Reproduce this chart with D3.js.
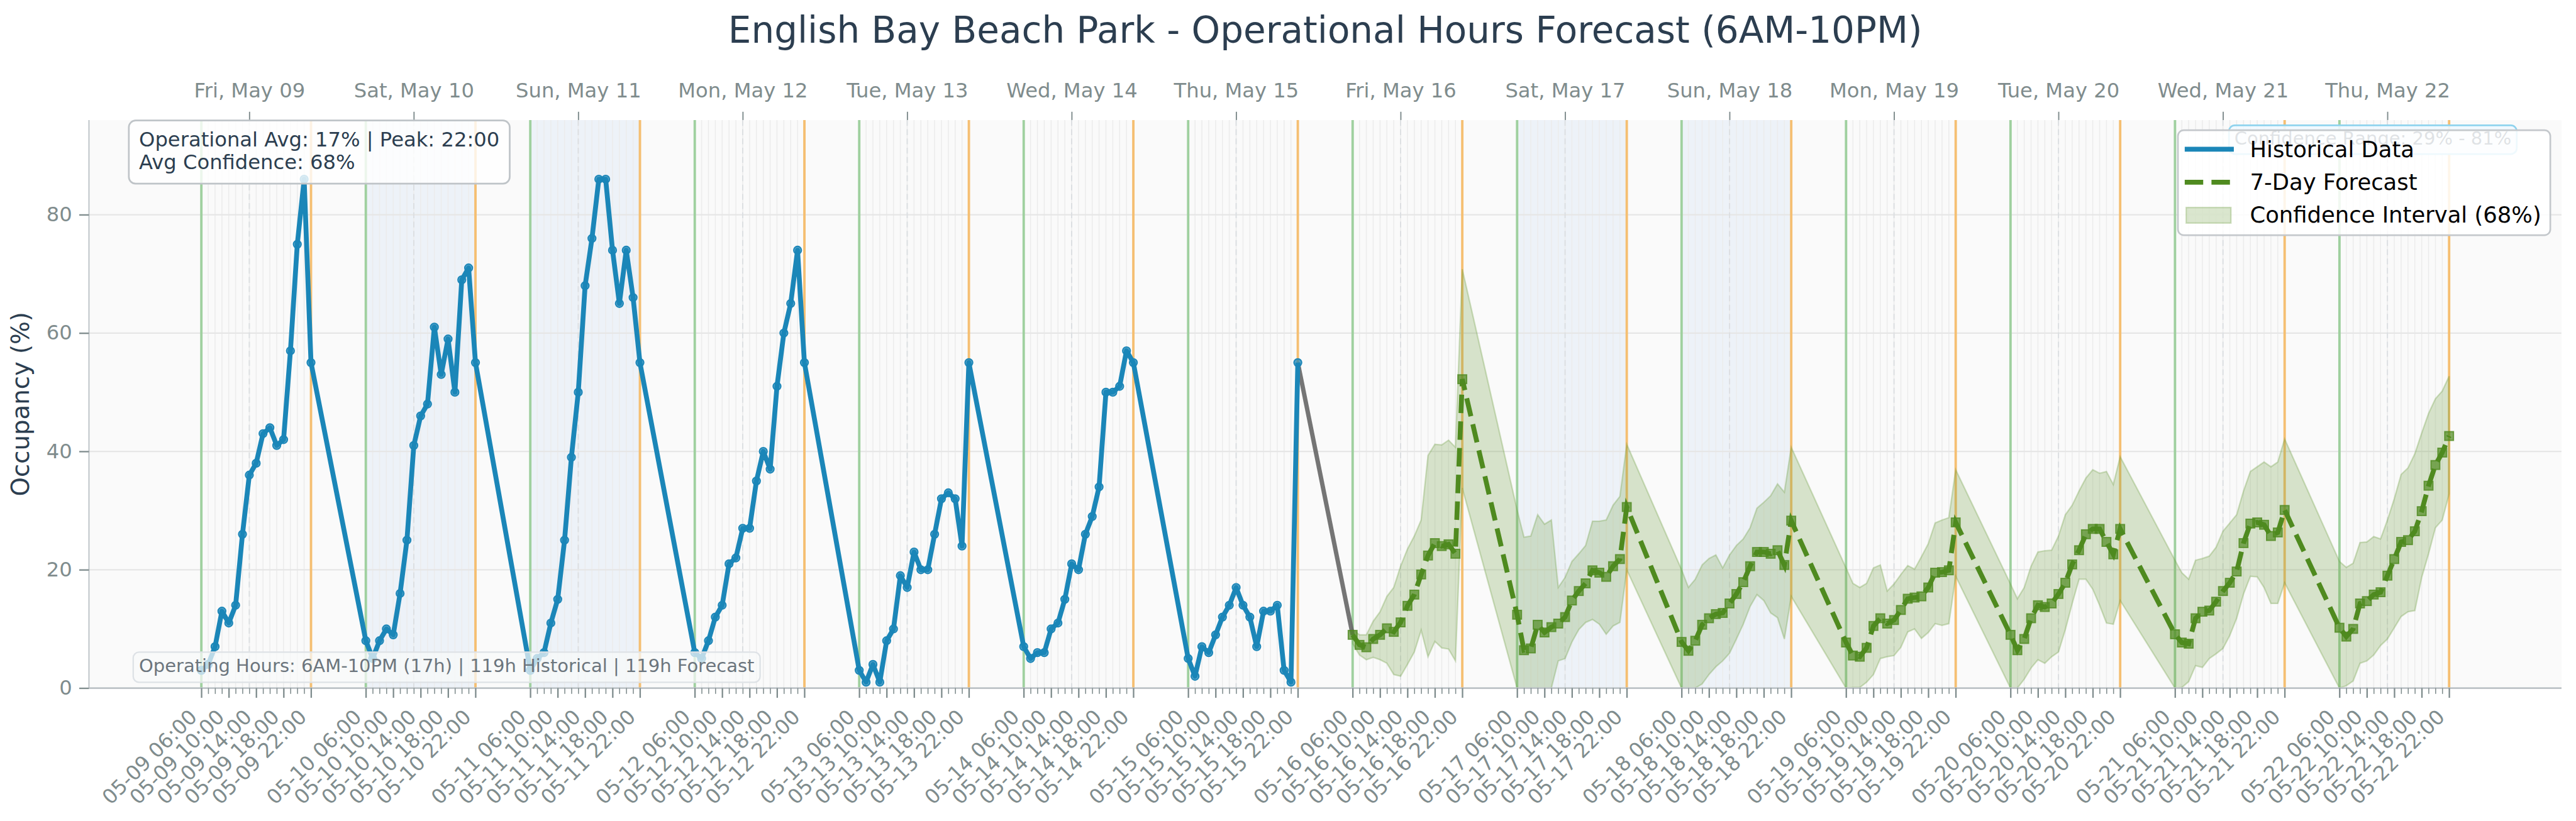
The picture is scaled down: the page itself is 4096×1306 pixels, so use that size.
<!DOCTYPE html>
<html>
<head>
<meta charset="utf-8">
<script src="https://cdn.jsdelivr.net/npm/d3@7"></script>
<style>
  html, body { margin: 0; padding: 0; background: #ffffff; }
  svg { display: block; font-family: "DejaVu Sans", "Liberation Sans", sans-serif; }
</style>
</head>
<body>
<svg id="chart" width="4096" height="1306"></svg>
<script>
// ---------------- DATA ----------------
const dayDates = ["2025-05-09","2025-05-10","2025-05-11","2025-05-12","2025-05-13","2025-05-14","2025-05-15",
                  "2025-05-16","2025-05-17","2025-05-18","2025-05-19","2025-05-20","2025-05-21","2025-05-22"];
const dayLabels = ["Fri, May 09","Sat, May 10","Sun, May 11","Mon, May 12","Tue, May 13","Wed, May 14","Thu, May 15",
                   "Fri, May 16","Sat, May 17","Sun, May 18","Mon, May 19","Tue, May 20","Wed, May 21","Thu, May 22"];
const weekendDates = ["2025-05-10","2025-05-11","2025-05-17","2025-05-18"];
const operatingHours = [6,7,8,9,10,11,12,13,14,15,16,17,18,19,20,21,22];
const majorTickHours = [6,10,14,18,22];
const dayLabelHour = 13;
const yTicks = [0,20,40,60,80];

// historical occupancy (%), 05-09 .. 05-15, 06:00..22:00
const historical = [
  3,4,7,13,11,14,26,36,38,43,44,41,42,57,75,86,55,
  8,5,8,10,9,16,25,41,46,48,61,53,59,50,69,71,55,
  3,5,6,11,15,25,39,50,68,76,86,86,74,65,74,66,55,
  6,5,8,12,14,21,22,27,27,35,40,37,51,60,65,74,55,
  3,1,4,1,8,10,19,17,23,20,20,26,32,33,32,24,55,
  7,5,6,6,10,11,15,21,20,26,29,34,50,50,51,57,55,
  5,2,7,6,9,12,14,17,14,12,7,13,13,14,3,1,55
];
// forecast (%), 05-16 .. 05-22
const forecast = [
  9.0,7.3,6.9,8.3,9.0,10.1,9.5,11.1,13.9,15.8,19.2,22.4,24.5,24.0,24.3,22.7,52.2,
  12.4,6.4,6.7,10.7,9.4,10.3,10.9,12.0,14.8,16.4,17.7,19.9,19.5,18.8,20.6,21.8,30.6,
  7.8,6.3,8.0,10.7,11.8,12.5,12.7,14.3,15.9,17.9,20.6,23.0,23.0,22.7,23.3,20.8,28.3,
  7.7,5.5,5.3,6.8,10.5,11.8,10.9,11.5,13.2,15.1,15.3,15.5,17.0,19.5,19.6,19.9,28.0,
  9.0,6.4,8.3,11.8,14.0,13.7,14.3,15.9,17.8,20.9,23.3,26.0,26.9,26.9,24.7,22.6,26.9,
  9.1,7.7,7.5,11.8,12.9,13.1,14.6,16.4,17.8,19.7,24.5,27.8,28.0,27.6,25.7,26.3,30.1,
  10.2,8.7,10.0,14.3,14.7,15.8,16.2,19.0,21.8,24.7,25.0,26.5,29.9,34.2,37.7,39.8,42.6
];
const forecastUpper = [
  9.9,9.0,9.0,11.3,12.9,15.5,17.0,20.6,23.5,25.7,28.4,39.3,41.2,41.1,41.9,40.7,70.8,
  30.1,25.5,25.7,29.3,27.7,28.4,17.0,18.7,21.4,22.7,24.1,28.2,28.2,28.4,30.9,32.4,41.2,
  20.0,17.0,18.4,20.8,21.9,22.5,20.3,22.5,24.1,25.2,27.1,30.4,31.4,32.5,34.5,33.1,40.7,
  20.3,17.7,17.0,17.7,20.3,20.8,16.4,17.6,19.2,20.7,20.1,22.2,24.4,27.9,28.4,28.8,36.9,
  17.6,15.1,17.0,20.6,23.0,23.2,23.3,25.7,29.3,30.9,33.3,35.5,36.9,36.3,36.6,34.4,39.1,
  21.6,19.5,18.4,21.6,21.9,22.3,23.8,26.5,27.9,29.3,33.3,36.6,37.4,38.2,37.4,38.2,42.1,
  21.4,20.4,21.1,24.6,24.7,25.6,25.2,28.4,32.0,36.1,37.2,39.6,43.1,46.4,48.9,50.2,52.7
];
const forecastLower = [
  7.5,5.6,4.8,5.2,4.8,4.2,2.3,2.0,4.0,6.1,9.8,5.3,7.9,6.8,6.6,4.6,33.8,
  0,0,0,0,0,0,4.6,5.0,7.8,9.9,11.1,11.6,10.8,9.1,10.5,11.1,20.0,
  0,0,0,0.7,2.3,3.6,4.6,5.9,8.3,10.8,13.8,15.8,14.8,12.7,11.9,8.3,15.5,
  0,0.1,0.1,1.0,2.3,5.0,5.3,5.5,6.9,9.5,10.0,8.4,9.4,10.9,10.6,10.9,18.9,
  0,0,1.5,3.4,4.8,4.2,5.3,6.1,9.9,14.3,18.4,18.4,16.7,14.0,11.0,10.8,14.8,
  0,0.1,1.1,3.8,3.5,5.0,5.8,6.7,8.9,11.8,15.9,18.9,18.8,17.0,14.3,14.3,17.8,
  0,0.4,1.2,4.2,4.6,5.6,7.2,8.3,10.2,12.1,12.9,13.1,18.7,22.7,27.1,28.4,32.8
];

const titleText = "English Bay Beach Park - Operational Hours Forecast (6AM-10PM)";
const yLabelText = "Occupancy (%)";
const statsLines = ["Operational Avg: 17% | Peak: 22:00", "Avg Confidence: 68%"];
const footerText = "Operating Hours: 6AM-10PM (17h) | 119h Historical | 119h Forecast";
const confRangeText = "Confidence Range: 29% - 81%";
const legendLabels = ["Historical Data", "7-Day Forecast", "Confidence Interval (68%)"];

// ---------------- HELPERS ----------------
const HOUR = 3600e3;
const at = (day, h) => new Date(Date.parse(day + "T00:00:00Z") + h * HOUR);
const histDays = dayDates.slice(0, 7), fcDays = dayDates.slice(7);
const histTimes = histDays.flatMap(d => operatingHours.map(h => at(d, h)));
const fcTimes = fcDays.flatMap(d => operatingHours.map(h => at(d, h)));
const histData = histTimes.map((t, i) => ({t, v: historical[i]}));
const fcData = fcTimes.map((t, i) => ({t, v: forecast[i], lo: forecastLower[i], hi: forecastUpper[i]}));

// ---------------- STYLE / LAYOUT (reference pixel units) ----------------
const S = 0.773;
const M = {left: 183, right: 5269, top: 247, bottom: 1416};
const C = {
  title: "#2c3e50", tick: "#7f8c8d", plotBg: "#fafafa", weekend: "#edf2f8",
  hourGrid: "#ececec", grid: "#e6e6e6", dayDash: "#dcdfe2",
  open: "#9fd09f", close: "#f5bf72",
  hist: "#1b86b8", fc: "#4f8a1f", fcFill: "#6a9a3c", conn: "#666666", spine: "#bdc3c7"
};

const svg = d3.select("#chart");
const root = svg.append("g").attr("transform", `scale(${S})`);

const t0 = histTimes[0], t1 = fcTimes[fcTimes.length - 1];
const pad = (t1 - t0) * 0.05;
const x = d3.scaleUtc().domain([new Date(+t0 - pad), new Date(+t1 + pad)]).range([M.left, M.right]);
const y = d3.scaleLinear().domain([0, 96]).range([M.bottom, M.top]);

root.append("defs").append("clipPath").attr("id", "plotclip")
  .append("rect").attr("x", M.left).attr("y", M.top).attr("width", M.right - M.left).attr("height", M.bottom - M.top);

// background
root.append("rect").attr("x", M.left).attr("y", M.top).attr("width", M.right - M.left)
  .attr("height", M.bottom - M.top).attr("fill", C.plotBg);

const plot = root.append("g").attr("clip-path", "url(#plotclip)");

// weekend shading (operating hours)
plot.selectAll("rect.weekend").data(weekendDates).join("rect").attr("class", "weekend")
  .attr("x", d => x(at(d, 6))).attr("width", d => x(at(d, 22)) - x(at(d, 6)))
  .attr("y", M.top).attr("height", M.bottom - M.top).attr("fill", C.weekend);

// hourly vertical grid within operating hours
const allHourTimes = dayDates.flatMap(d => operatingHours.map(h => at(d, h)));
plot.selectAll("line.hg").data(allHourTimes).join("line").attr("class", "hg")
  .attr("x1", d => x(d)).attr("x2", d => x(d)).attr("y1", M.top).attr("y2", M.bottom)
  .attr("stroke", C.hourGrid).attr("stroke-width", 2);

// horizontal grid
plot.selectAll("line.yg").data(yTicks.slice(1)).join("line").attr("class", "yg")
  .attr("x1", M.left).attr("x2", M.right).attr("y1", d => y(d)).attr("y2", d => y(d))
  .attr("stroke", C.grid).attr("stroke-width", 3);

// dashed day-centre lines
plot.selectAll("line.dd").data(dayDates).join("line").attr("class", "dd")
  .attr("x1", d => x(at(d, dayLabelHour))).attr("x2", d => x(at(d, dayLabelHour)))
  .attr("y1", M.top).attr("y2", M.bottom)
  .attr("stroke", C.dayDash).attr("stroke-width", 2.5).attr("stroke-dasharray", "12,7");

// opening / closing lines
plot.selectAll("line.op").data(dayDates).join("line").attr("class", "op")
  .attr("x1", d => x(at(d, 6))).attr("x2", d => x(at(d, 6))).attr("y1", M.top).attr("y2", M.bottom)
  .attr("stroke", C.open).attr("stroke-width", 5);
plot.selectAll("line.cl").data(dayDates).join("line").attr("class", "cl")
  .attr("x1", d => x(at(d, 22))).attr("x2", d => x(at(d, 22))).attr("y1", M.top).attr("y2", M.bottom)
  .attr("stroke", C.close).attr("stroke-width", 5);

// confidence interval
const area = d3.area().x(d => x(d.t)).y0(d => y(d.lo)).y1(d => y(d.hi));
plot.append("path").datum(fcData).attr("d", area)
  .attr("fill", C.fcFill).attr("fill-opacity", 0.25)
  .attr("stroke", C.fcFill).attr("stroke-opacity", 0.3).attr("stroke-width", 3);

// connector
const line = d3.line().x(d => x(d.t)).y(d => y(d.v));
plot.append("path").datum([histData[histData.length - 1], fcData[0]]).attr("d", line)
  .attr("fill", "none").attr("stroke", C.conn).attr("stroke-width", 9).attr("stroke-opacity", 0.9);

// historical
plot.append("path").datum(histData).attr("d", line)
  .attr("fill", "none").attr("stroke", C.hist).attr("stroke-width", 10).attr("stroke-linejoin", "round");
plot.selectAll("circle.hm").data(histData).join("circle").attr("class", "hm")
  .attr("cx", d => x(d.t)).attr("cy", d => y(d.v)).attr("r", 8)
  .attr("fill", C.hist).attr("fill-opacity", 0.75).attr("stroke", C.hist).attr("stroke-width", 2.5);

// forecast
plot.append("path").datum(fcData).attr("d", line)
  .attr("fill", "none").attr("stroke", C.fc).attr("stroke-width", 10).attr("stroke-dasharray", "38,17");
plot.selectAll("rect.fm").data(fcData).join("rect").attr("class", "fm")
  .attr("x", d => x(d.t) - 9).attr("y", d => y(d.v) - 9).attr("width", 18).attr("height", 18)
  .attr("fill", C.fc).attr("fill-opacity", 0.7).attr("stroke", C.fc).attr("stroke-width", 2.5).attr("stroke-opacity", 0.8);

// spines
root.append("line").attr("x1", M.left).attr("x2", M.left).attr("y1", M.top).attr("y2", M.bottom)
  .attr("stroke", C.spine).attr("stroke-width", 2.5);
root.append("line").attr("x1", M.left).attr("x2", M.right).attr("y1", M.bottom).attr("y2", M.bottom)
  .attr("stroke", C.spine).attr("stroke-width", 3.5);

// ---------------- AXES ----------------
const FS = 41.67;
function styleAxis(sel) {
  sel.select(".domain").remove();
  sel.selectAll(".tick line").attr("stroke", C.tick).attr("stroke-width", 3);
  sel.selectAll(".tick text").attr("fill", C.tick).attr("font-size", FS)
     .attr("font-family", "DejaVu Sans");
}
// bottom major
const majorTimes = dayDates.flatMap(d => majorTickHours.map(h => at(d, h)));
const minorTimes = dayDates.flatMap(d => operatingHours.filter(h => !majorTickHours.includes(h)).map(h => at(d, h)));
const xb = root.append("g").attr("transform", `translate(0,${M.bottom})`)
  .call(d3.axisBottom(x).tickValues(majorTimes).tickFormat(d3.utcFormat("%m-%d %H:%M")).tickSize(20));
styleAxis(xb);
xb.selectAll(".tick text").attr("y", null).attr("dy", null).attr("x", null)
  .attr("text-anchor", "end").attr("transform", "translate(-7,62) rotate(-45)");
const xm = root.append("g").attr("transform", `translate(0,${M.bottom})`)
  .call(d3.axisBottom(x).tickValues(minorTimes).tickFormat("").tickSize(12));
styleAxis(xm);
xm.selectAll(".tick line").attr("stroke-width", 2);

// top day labels
const xt = root.append("g").attr("transform", `translate(0,${M.top})`)
  .call(d3.axisTop(x).tickValues(dayDates.map(d => at(d, dayLabelHour))).tickSize(17).tickPadding(29)
        .tickFormat((d, i) => dayLabels[i]));
styleAxis(xt);
xt.selectAll(".tick line").attr("stroke-width", 2.5);

// y axis
const ya = root.append("g").attr("transform", `translate(${M.left},0)`)
  .call(d3.axisLeft(y).tickValues(yTicks).tickSize(20).tickPadding(14.6));
styleAxis(ya);

// labels
root.append("text").attr("x", (M.left + M.right) / 2).attr("y", 88).attr("text-anchor", "middle")
  .attr("font-size", 75).attr("fill", C.title).text(titleText);
root.append("text").attr("transform", `translate(60,${(M.top + M.bottom) / 2}) rotate(-90)`)
  .attr("text-anchor", "middle").attr("font-size", 50).attr("fill", C.title).text(yLabelText);

// ---------------- ANNOTATIONS ----------------
// stats box (top-left)
const sb = root.append("g");
const sbRect = sb.append("rect");
const sbText = sb.append("text").attr("font-size", FS).attr("fill", C.title);
statsLines.forEach((s, i) => sbText.append("tspan").attr("x", 286).attr("y", 302 + i * 46.5).text(s));
const sbW = sbText.node().getBBox().width;
sbRect.attr("x", 265).attr("y", 248).attr("width", sbW + 42).attr("height", 130).attr("rx", 14)
  .attr("fill", "#ffffff").attr("fill-opacity", 0.8).attr("stroke", "#bfc4c8").attr("stroke-width", 3.5);

// footer box (bottom-left)
const fb = root.append("g");
const fbRect = fb.append("rect");
const fbText = fb.append("text").attr("x", 286).attr("y", 1383).attr("font-size", 37.5).attr("fill", "#6c757d").text(footerText);
const fbW = fbText.node().getComputedTextLength();
fbRect.attr("x", 274).attr("y", 1342).attr("width", fbW + 24).attr("height", 62).attr("rx", 12)
  .attr("fill", "#f8f9fa").attr("fill-opacity", 0.72).attr("stroke", "#dee2e6").attr("stroke-width", 3);

// confidence range box (mostly hidden under legend)
const cb = root.append("g");
const cbRect = cb.append("rect");
const cbText = cb.append("text").attr("x", 4596).attr("y", 298).attr("font-size", 37.5).attr("fill", "#2c3e50").text(confRangeText);
const cbW = cbText.node().getComputedTextLength();
cbRect.attr("x", 4585).attr("y", 258).attr("width", cbW + 22).attr("height", 59).attr("rx", 12)
  .attr("fill", "#f0f8ff").attr("fill-opacity", 0.9).attr("stroke", "#8fd3ee").attr("stroke-width", 3.5);

// legend
const lg = root.append("g");
lg.append("rect").attr("x", 4480).attr("y", 268).attr("width", 766).attr("height", 216).attr("rx", 12)
  .attr("fill", "#ffffff").attr("fill-opacity", 0.85).attr("stroke", "#c4c8cc").attr("stroke-width", 3.5);
lg.append("line").attr("x1", 4494).attr("x2", 4595).attr("y1", 307).attr("y2", 307)
  .attr("stroke", C.hist).attr("stroke-width", 10);
lg.append("line").attr("x1", 4494).attr("x2", 4595).attr("y1", 375).attr("y2", 375)
  .attr("stroke", C.fc).attr("stroke-width", 10).attr("stroke-dasharray", "38,17");
lg.append("rect").attr("x", 4497).attr("y", 427).attr("width", 92).attr("height", 32)
  .attr("fill", C.fcFill).attr("fill-opacity", 0.25).attr("stroke", C.fcFill).attr("stroke-opacity", 0.3).attr("stroke-width", 3);
legendLabels.forEach((s, i) => lg.append("text").attr("x", 4628).attr("y", 323 + i * 67.5)
  .attr("font-size", 45.8).attr("fill", "#000000").text(s));
</script>
</body>
</html>
